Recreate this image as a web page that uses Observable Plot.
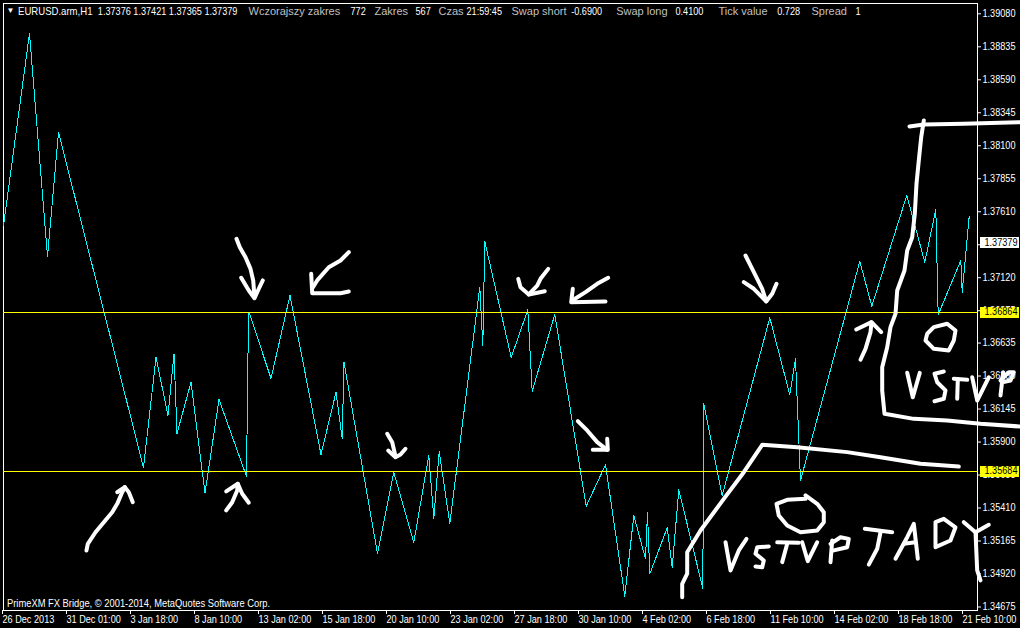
<!DOCTYPE html>
<html>
<head>
<meta charset="utf-8">
<script src="https://cdn.jsdelivr.net/npm/d3@7"></script>
<script src="https://cdn.jsdelivr.net/npm/@observablehq/plot@0.6"></script>
<style>
html,body{margin:0;padding:0;background:#000;overflow:hidden}
svg{display:block}
</style>
</head>
<body>
<div id="chart"></div>
<script>
const bars = [0,26,44,55,140,152.5,164.5,170.5,173.5,187.5,201.5,215.5,243,244.5,245.5,267.5,286.5,317.5,332.5,338.7,340.5,374,390.3,410.3,425.3,430.3,435.7,446.3,476.3,479.3,481.3,507.7,524.3,528.7,551.3,582.7,602,621.3,630.3,642,644,646.3,663.7,668.7,675.3,699.3,700.3,718.7,766.3,786.3,792,797,856.3,868.3,903.3,921.3,932.3,934.7,957.3,958.7,965.7];
const prices = [1.37508,1.38934,1.37278,1.38199,1.35711,1.36528,1.36097,1.36557,1.35963,1.36344,1.35520,1.36216,1.35644,1.36557,1.36864,1.36372,1.36988,1.35807,1.36270,1.35926,1.36491,1.35072,1.35674,1.35154,1.35800,1.35334,1.35830,1.35295,1.37050,1.36617,1.37389,1.36528,1.36882,1.36277,1.36847,1.35423,1.35731,1.34755,1.35354,1.35033,1.35374,1.34921,1.35263,1.34970,1.35545,1.34814,1.36184,1.35503,1.36822,1.36251,1.36518,1.35614,1.37241,1.36909,1.37731,1.37235,1.37627,1.36845,1.37248,1.37013,1.37575];

const xTickBars = [0,64,128,192,256,320,384,448,512,576,640,704,768,832,896,960];
const xTickLabels = ["26 Dec 2013","31 Dec 01:00","3 Jan 18:00","8 Jan 10:00","13 Jan 02:00","15 Jan 18:00","20 Jan 10:00","23 Jan 02:00","27 Jan 18:00","30 Jan 10:00","4 Feb 02:00","6 Feb 18:00","11 Feb 10:00","14 Feb 02:00","18 Feb 18:00","21 Feb 10:00"];
const yTicks = [1.39080,1.38835,1.38590,1.38345,1.38100,1.37855,1.37610,1.37365,1.37120,1.36875,1.36635,1.36390,1.36145,1.35900,1.35655,1.35410,1.35165,1.34920,1.34675];

const levels = [1.36864,1.35684];
const currentPrice = 1.37379;

const headerParts = [
  {x:14.5,text:"EURUSD.arm,H1",fill:"#fff"},
  {x:94.3,text:"1.37376 1.37421 1.37365 1.37379",fill:"#fff"},
  {x:245,text:"Wczorajszy zakres",fill:"#c0c0c0"},
  {x:347,text:"772",fill:"#fff"},
  {x:371,text:"Zakres",fill:"#c0c0c0"},
  {x:412,text:"567",fill:"#fff"},
  {x:435,text:"Czas",fill:"#c0c0c0"},
  {x:463,text:"21:59:45",fill:"#fff"},
  {x:508,text:"Swap short",fill:"#c0c0c0"},
  {x:567.7,text:"-0.6900",fill:"#fff"},
  {x:612.7,text:"Swap long",fill:"#c0c0c0"},
  {x:672,text:"0.4100",fill:"#fff"},
  {x:715,text:"Tick value",fill:"#c0c0c0"},
  {x:773.7,text:"0.728",fill:"#fff"},
  {x:808,text:"Spread",fill:"#c0c0c0"},
  {x:852,text:"1",fill:"#fff"}
];
const footerText = "PrimeXM FX Bridge, © 2001-2014, MetaQuotes Software Corp.";

// hand-drawn marks on the chart: [bar, price in points]
const strokes = [
  [[83,135095],[84.3,135144],[92,135230],[100.3,135305],[108.7,135379],[113.7,135441],[118.7,135527],[121.3,135565]],
  [[113.7,135527],[121.3,135565],[125.3,135527],[129.3,135453]],
  [[222.7,135392],[228.7,135453],[233.7,135540],[234.3,135590]],
  [[222.7,135533],[234.3,135590],[238.7,135516],[245.3,135449]],
  [[233,137409],[236.3,137347],[242,137272],[247,137186],[249.7,137100],[251,136976]],
  [[237.7,137120],[245.3,137025],[251,136968],[255.3,137038],[259.3,137100]],
  [[345.3,137310],[337,137248],[325.3,137198],[313.7,137100],[308.7,137040]],
  [[307.7,137149],[308.7,137005],[337,137005],[345.3,137018]],
  [[383.7,135961],[388.7,135899],[392,135792]],
  [[384.7,135837],[392,135787],[397,135807],[402,135850]],
  [[544.7,137186],[537,137112],[533.7,137062],[525.3,136996]],
  [[514.7,137112],[517,137050],[525.3,136996],[541.3,137020]],
  [[604.7,137120],[593.7,137075],[582,137013],[568.7,136951]],
  [[569.3,137038],[567.7,136938],[602,136944]],
  [[574.3,136055],[583.7,135986],[593.7,135899],[603.7,135842]],
  [[603.7,135924],[604.3,135842],[589.3,135842]],
  [[742,137285],[748.7,137186],[758.7,137038],[762.7,136944]],
  [[740.3,137087],[750.3,137038],[762.7,136944],[768.7,137001],[773,137075]],
  [[857,136511],[862,136592],[867,136716],[868,136790]],
  [[852.7,136736],[868,136790],[877.7,136716]],
  [[906,138243],[920.3,138258],[960.3,138263],[1017,138275]],
  [[920.3,138288],[917.7,138164],[915.3,137991],[913,137818],[911.3,137595],[908.7,137421],[903.7,137322],[901,137174],[893.7,137025],[892,136852],[887,136753],[883.7,136604],[878.7,136456],[878.7,136283],[881,136110],[910.3,136072],[943.7,136060],[977,136035],[1017,136015]],
  [[678.7,134748],[678.7,134847],[683.7,134922],[683.7,135082],[697,135243],[720.3,135478],[740.3,135676],[758.7,135879],[793.7,135862],[843.7,135825],[877,135787],[917,135738],[955.3,135718]],
  [[802,135503],[813.7,135441],[820.3,135379],[820.3,135305],[813.7,135243],[797,135230],[783.7,135280],[775.3,135354],[773,135441],[783.7,135471],[802,135478]],
  [[923.7,136704],[930.3,136753],[943.7,136778],[952,136728],[950.3,136654],[945.3,136580],[930.3,136592],[922,136654],[923.7,136704]],
  [[722,135156],[727,134946],[735.3,135095],[743,135181]],
  [[765.3,135124],[753.7,135119],[752,135070],[760.3,135020],[758.7,134970],[752,134976]],
  [[773.7,135156],[795.3,135152]],
  [[783.7,135144],[778.7,135008]],
  [[798.7,135156],[804.3,135015],[813.7,135156]],
  [[828.7,135169],[827,135008]],
  [[827,135144],[837,135193],[845.3,135181],[843.7,135119],[830.3,135095]],
  [[861.3,135256],[888.7,135230]],
  [[877,135230],[873.7,135107],[865.3,134990]],
  [[892,135033],[903.7,135193],[910.3,135293],[914.3,135033]],
  [[900.3,135144],[912,135156]],
  [[932,135305],[932,135119],[947,135169],[952,135267],[940.3,135330],[932,135305]],
  [[960.3,135305],[972,135230],[985.3,135285]],
  [[972,135230],[973.7,134946],[977,134872]],
  [[903.7,136414],[909.3,136233],[916.3,136414]],
  [[940.3,136424],[931,136407],[933.7,136344],[942,136283],[940.3,136221],[931,136203]],
  [[950.3,136370],[963.7,136362]],
  [[954.3,136362],[953.7,136221]],
  [[968.7,136381],[973.7,136208],[985.3,136381]],
  [[999.7,136419],[997,136245]],
  [[997,136357],[1005.3,136419],[1010.3,136419],[1007,136357],[998.7,136344]]
];

const font = "'Liberation Sans',sans-serif";
const series = bars.map((b,i)=>({b,p:prices[i]}));

const chart = Plot.plot({
  width:1020,height:628,
  marginLeft:3,marginRight:43,marginTop:3,marginBottom:18,
  style:{background:"#000",color:"#fff",fontFamily:font,fontSize:"11px"},
  x:{type:"linear",domain:[0,974],axis:null},
  y:{type:"linear",domain:[1.346489,1.391565],axis:null},
  marks:[
    Plot.frame({stroke:"#fff"}),
    Plot.axisX({ticks:xTickBars,anchor:"bottom",label:null,tickSize:4,tickPadding:1,stroke:"#fff",fill:"#fff",textAnchor:"start",dx:-1,
      tickFormat:v=>xTickLabels[xTickBars.indexOf(v)],fontFamily:font,fontSize:10}),
    Plot.axisY({ticks:yTicks,anchor:"right",label:null,tickSize:3,tickPadding:2,stroke:"#fff",fill:"#fff",
      tickFormat:d=>d.toFixed(5),fontFamily:font,fontSize:10}),
    Plot.line(series,{x:"b",y:"p",stroke:"#00ffff",strokeWidth:1,shapeRendering:"crispEdges"}),
    Plot.ruleY(levels,{stroke:"#ffff00",strokeWidth:1,shapeRendering:"crispEdges"}),
    Plot.ruleY(levels,{x1:977,x2:1016,stroke:"#ffff00",strokeWidth:11,shapeRendering:"crispEdges"}),
    Plot.ruleY([currentPrice],{x1:977,x2:1016,stroke:"#fff",strokeWidth:11,shapeRendering:"crispEdges"}),
    Plot.text(levels,{x:981,y:d=>d,text:d=>d.toFixed(5),textAnchor:"start",fill:"#000",fontFamily:font,fontSize:10}),
    Plot.text([currentPrice],{x:981,y:d=>d,text:d=>d.toFixed(5),textAnchor:"start",fill:"#000",fontFamily:font,fontSize:10}),
    Plot.text(headerParts,{x:"x",text:"text",fill:"fill",frameAnchor:"top",dy:4,textAnchor:"start",fontFamily:font,fontSize:11}),
    Plot.text(["▼"],{x:3,frameAnchor:"top",dy:4,textAnchor:"start",fill:"#fff",fontSize:8}),
    Plot.text([footerText],{x:3.5,frameAnchor:"bottom",dy:-4,textAnchor:"start",fill:"#fff",fontFamily:font,fontSize:11}),
    ...strokes.map(s=>Plot.line(s,{x:d=>d[0],y:d=>d[1]/1e5,stroke:"#fff",strokeWidth:4,strokeLinecap:"round",strokeLinejoin:"round"}))
  ]
});
document.getElementById("chart").append(chart);
// The reference uses a narrow bitmap face: condense the real text to its width.
const grey = new Set(headerParts.filter(d=>d.fill!=="#fff").map(d=>d.text));
chart.querySelectorAll("text").forEach(t=>{
  const s = t.textContent;
  if (s === "▼" || grey.has(s)) return;
  const size = parseFloat(t.getAttribute("font-size") || t.parentNode.getAttribute("font-size") || getComputedStyle(t).fontSize);
  const ratio = s === footerText ? 0.85 : s === "EURUSD.arm,H1" ? 0.87 : size <= 10 ? 0.913 : 0.83;
  t.setAttribute("textLength", (t.getComputedTextLength()*ratio).toFixed(1));
  t.setAttribute("lengthAdjust","spacingAndGlyphs");
});
</script>
</body>
</html>
